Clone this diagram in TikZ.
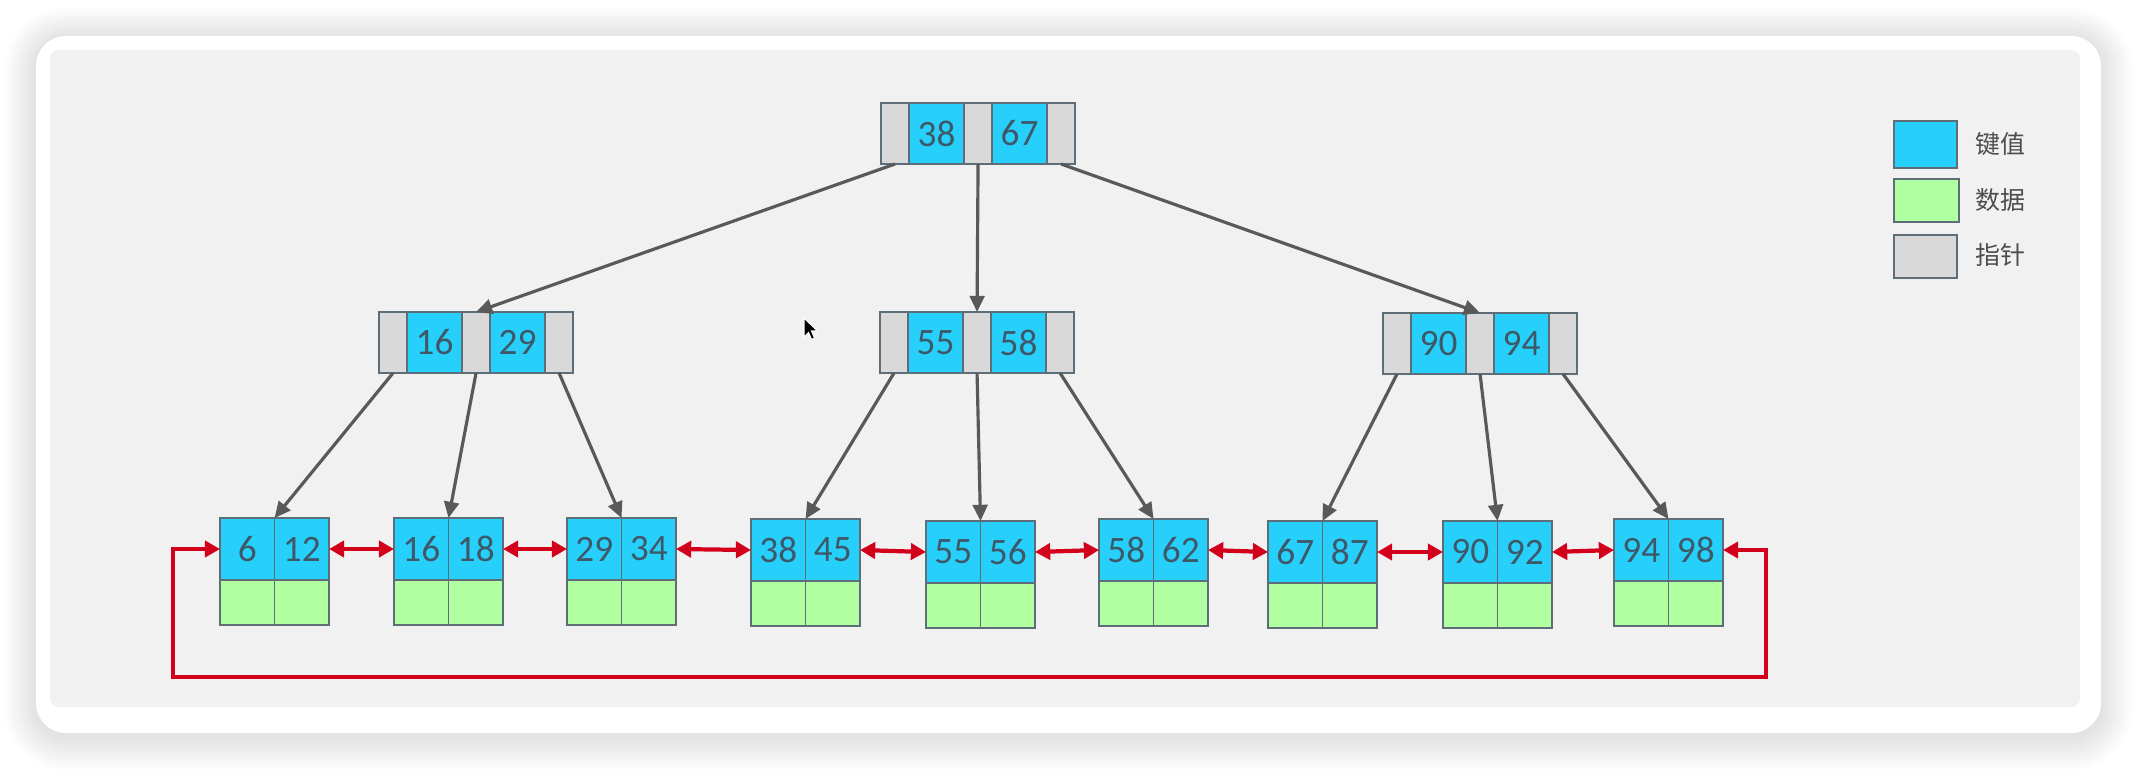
\documentclass[tikz,border=0pt]{standalone}
\usepackage{fontspec}
\setmainfont{Carlito}
\newfontfamily\cjkfont{Noto Sans CJK SC}
\usetikzlibrary{arrows.meta}

\definecolor{keyblue}{HTML}{27CFFB}
\definecolor{datagreen}{HTML}{B0FFA0}
\definecolor{ptrgray}{HTML}{D9D9D9}
\definecolor{cellline}{HTML}{5E6E78}
\definecolor{digit}{HTML}{3F5868}
\definecolor{panel}{HTML}{F1F1F1}
\definecolor{linkgray}{HTML}{595959}
\definecolor{linkred}{HTML}{D3001B}
\definecolor{legendtext}{HTML}{4D4D4D}

\tikzset{
  cell/.style={draw=cellline, line width=0.45pt, inner sep=0pt, outer sep=0pt,
    anchor=north west, font=\fontsize{10.6}{11}\selectfont, text=digit},
  ptrcell/.style={cell, fill=ptrgray, minimum width=0.28cm, minimum height=0.61cm},
  keycell/.style={cell, fill=keyblue, minimum width=0.55cm, minimum height=0.61cm},
  leafkey/.style={cell, fill=keyblue, minimum width=0.545cm, minimum height=0.62cm},
  leafdata/.style={cell, fill=datagreen, minimum width=0.545cm, minimum height=0.45cm},
  childlink/.style={draw=linkgray, line width=0.9pt, -{Triangle[length=4.6pt,width=4.2pt]}},
  siblink/.style={draw=linkred, line width=1.2pt,
    {Triangle[length=4.3pt,width=4.6pt]}-{Triangle[length=4.3pt,width=4.6pt]}},
  legendbox/.style={draw=cellline, line width=0.5pt, anchor=north west, inner sep=0pt,
    outer sep=0pt},
  legendlabel/.style={anchor=west, font=\cjkfont\fontsize{7.1}{8}\selectfont,
    text=legendtext, inner sep=0pt},
}

% inner node: pointer | key | pointer | key | pointer
\newcommand\innernode[5]{%
  \node[ptrcell] (#1p0) at (#2,#3) {};
  \node[keycell] (#1k1) at (#1p0.north east) {#4};
  \node[ptrcell] (#1p1) at (#1k1.north east) {};
  \node[keycell] (#1k2) at (#1p1.north east) {#5};
  \node[ptrcell] (#1p2) at (#1k2.north east) {};
}
% leaf node: two keys above two data cells
\newcommand\leafnode[5]{%
  \node[leafkey] (#1k1) at (#2,#3) {#4};
  \node[leafkey] (#1k2) at (#1k1.north east) {#5};
  \node[leafdata] (#1d1) at (#1k1.south west) {};
  \node[leafdata] (#1d2) at (#1k2.south west) {};
}

\begin{document}
\begin{tikzpicture}[x=0.01cm, y=-0.01cm]
\useasboundingbox (0,0) rectangle (2138,770);
\fill[white] (0,0) rectangle (2138,770);

% soft shadow of the card
\foreach \i in {1,...,14} {
  \pgfmathsetmacro\rad{8.5+\i*0.7}
  \fill[black, opacity=0.0075, rounded corners=\rad pt]
    (36-\i*2.3, 38-\i*2.2) rectangle (2101+\i*2.3, 737+\i*2.4);
}
% card and panel
\fill[white, rounded corners=8.5pt] (36,36) rectangle (2101,733);
\fill[panel, rounded corners=2.5pt] (50,50) rectangle (2080,707);

% root and second level
\innernode{r}{881}{103}{38}{67}
\innernode{a}{379}{312}{16}{29}
\innernode{b}{880}{312}{55}{58}
\innernode{c}{1383}{313}{90}{94}

% leaves
\leafnode{l1}{220}{518}{6}{12}
\leafnode{l2}{394}{518}{16}{18}
\leafnode{l3}{567}{518}{29}{34}
\leafnode{l4}{751}{519}{38}{45}
\leafnode{l5}{926}{521}{55}{56}
\leafnode{l6}{1099}{519}{58}{62}
\leafnode{l7}{1268}{521}{67}{87}
\leafnode{l8}{1443}{521}{90}{92}
\leafnode{l9}{1614}{519}{94}{98}

% child pointers
\draw[childlink] (rp0.south) -- (ap1.north);
\draw[childlink] (rp1.south) -- (bp1.north);
\draw[childlink] (rp2.south) -- (cp1.north);
\draw[childlink] (ap0.south) -- (l1k1.north east);
\draw[childlink] (ap1.south) -- (l2k1.north east);
\draw[childlink] (ap2.south) -- (l3k1.north east);
\draw[childlink] (bp0.south) -- (l4k1.north east);
\draw[childlink] (bp1.south) -- (l5k1.north east);
\draw[childlink] (bp2.south) -- (l6k1.north east);
\draw[childlink] (cp0.south) -- (l7k1.north east);
\draw[childlink] (cp1.south) -- (l8k1.north east);
\draw[childlink] (cp2.south) -- (l9k1.north east);

% leaf chain
\draw[siblink] (l1k2.east) -- (l2k1.west);
\draw[siblink] (l2k2.east) -- (l3k1.west);
\draw[siblink] (l3k2.east) -- (l4k1.west);
\draw[siblink] (l4k2.east) -- (l5k1.west);
\draw[siblink] (l5k2.east) -- (l6k1.west);
\draw[siblink] (l6k2.east) -- (l7k1.west);
\draw[siblink] (l7k2.east) -- (l8k1.west);
\draw[siblink] (l8k2.east) -- (l9k1.west);
\coordinate (loopL) at (173,677);
\coordinate (loopR) at (1766,677);
\draw[siblink] (l1k1.west) -| (loopL) -- (loopR) |- (l9k2.east);

% legend
\node[legendbox, fill=keyblue, minimum width=0.63cm, minimum height=0.47cm] (lgkey) at (1894,121) {};
\node[legendbox, fill=datagreen, minimum width=0.65cm, minimum height=0.43cm] (lgdata) at (1894,179) {};
\node[legendbox, fill=ptrgray, minimum width=0.63cm, minimum height=0.43cm] (lgptr) at (1894,235) {};
\node[legendlabel] (lgkeytxt) at (1975,144) {键值};
\node[legendlabel] (lgdatatxt) at (1975,200) {数据};
\node[legendlabel] (lgptrtxt) at (1975,255) {指针};

% mouse pointer
\filldraw[fill=black, draw=white, line width=0.3pt]
  (804,318) -- (804,337) -- (808.5,332.5) -- (811.5,339.5) -- (814.5,338)
  -- (811.5,331) -- (817.5,331) -- cycle;
\end{tikzpicture}
\end{document}
